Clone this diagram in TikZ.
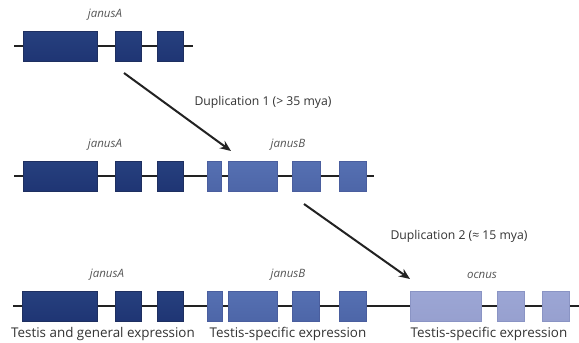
\documentclass[tikz,border=0pt]{standalone}
\usepackage{fontspec}
\setmainfont{Open Sans}
\usetikzlibrary{arrows.meta}

\definecolor{inkline}{HTML}{222222}
\definecolor{labelgray}{HTML}{555555}
\definecolor{textgray}{HTML}{333333}
% exon fills: dark (janusA), medium (janusB), light (ocnus)
\definecolor{aDraw}{HTML}{1E2F60}
\definecolor{aTop}{HTML}{26407E}
\definecolor{aMid}{HTML}{4A69B2}
\definecolor{aBot}{HTML}{1F3574}
\definecolor{bDraw}{HTML}{4A5E9E}
\definecolor{bTop}{HTML}{5670B2}
\definecolor{bMid}{HTML}{8EA2D8}
\definecolor{bBot}{HTML}{4D66A8}
\definecolor{cDraw}{HTML}{8A94C4}
\definecolor{cTop}{HTML}{9CA6D5}
\definecolor{cMid}{HTML}{CDD3F0}
\definecolor{cBot}{HTML}{97A0CF}

\tikzset{
  exon/.style={rectangle, inner sep=0pt, minimum height=30pt, anchor=west, line width=0.6pt},
  exonA/.style={exon, draw=aDraw, top color=aTop, middle color=aMid, bottom color=aBot},
  exonB/.style={exon, draw=bDraw, top color=bTop, middle color=bMid, bottom color=bBot},
  exonC/.style={exon, draw=cDraw, top color=cTop, middle color=cMid, bottom color=cBot},
  intron/.style={draw=inkline, line width=2pt},
  dup/.style={draw=inkline, line width=2pt, -{Stealth[length=11pt,width=9pt]}},
  gene/.style={text=labelgray, font=\itshape\fontsize{11.5}{12}\selectfont, inner sep=0pt},
  duplabel/.style={text=textgray, font=\fontsize{12.2}{13}\selectfont, inner sep=0pt},
  expr/.style={text=textgray, font=\fontsize{13.4}{14}\selectfont, inner sep=0pt}
}

\begin{document}
\begin{tikzpicture}[x=1pt,y=-1pt]
\useasboundingbox[fill=white] (0,0) rectangle (579,343);

% ---------- row 1: ancestral janusA ----------
\coordinate (r1s) at (14,46);
\coordinate (r1e) at (193,46);
\draw[intron] (r1s) -- (r1e);
\node[exonA, minimum width=74pt] (a1e1) at (23,46) {};
\node[exonA, minimum width=26pt] (a1e2) at (115,46) {};
\node[exonA, minimum width=26pt] (a1e3) at (157,46) {};
\node[gene] (a1lab) at (105,15) {janusA};

% ---------- duplication 1 ----------
\coordinate (d1s) at (124,73);
\coordinate (d1e) at (231,151);
\draw[dup] (d1s) -- (d1e);
\node[duplabel] (d1lab) at (263,102) {Duplication 1 (> 35 mya)};

% ---------- row 2: janusA + janusB ----------
\coordinate (r2s) at (14,176);
\coordinate (r2e) at (374,176);
\draw[intron] (r2s) -- (r2e);
\node[exonA, minimum width=74pt] (a2e1) at (23,176) {};
\node[exonA, minimum width=26pt] (a2e2) at (115,176) {};
\node[exonA, minimum width=26pt] (a2e3) at (157,176) {};
\node[exonB, minimum width=14pt] (b2e1) at (207,176) {};
\node[exonB, minimum width=49pt] (b2e2) at (228,176) {};
\node[exonB, minimum width=28pt] (b2e3) at (292,176) {};
\node[exonB, minimum width=27pt] (b2e4) at (339,176) {};
\node[gene] (a2lab) at (105,145) {janusA};
\node[gene] (b2lab) at (288,145) {janusB};

% ---------- duplication 2 ----------
\coordinate (d2s) at (304,204);
\coordinate (d2e) at (410,279);
\draw[dup] (d2s) -- (d2e);
\node[duplabel] (d2lab) at (459,236) {Duplication 2 (≈ 15 mya)};

% ---------- row 3: janusA + janusB + ocnus ----------
\coordinate (r3s) at (13,306);
\coordinate (r3e) at (579,306);
\draw[intron] (r3s) -- (r3e);
\node[exonA, minimum width=75pt] (a3e1) at (22,306) {};
\node[exonA, minimum width=26pt] (a3e2) at (115,306) {};
\node[exonA, minimum width=26pt] (a3e3) at (157,306) {};
\node[exonB, minimum width=15pt] (b3e1) at (207,306) {};
\node[exonB, minimum width=49pt] (b3e2) at (228,306) {};
\node[exonB, minimum width=27pt] (b3e3) at (292,306) {};
\node[exonB, minimum width=27pt] (b3e4) at (339,306) {};
\node[exonC, minimum width=71pt] (c3e1) at (410,306) {};
\node[exonC, minimum width=27pt] (c3e2) at (497,306) {};
\node[exonC, minimum width=27pt] (c3e3) at (542,306) {};
\node[gene] (a3lab) at (107,275) {janusA};
\node[gene] (b3lab) at (288,275) {janusB};
\node[gene] (c3lab) at (482,275) {ocnus};

% ---------- expression notes ----------
\node[expr] (xa) at (103,334) {Testis and general expression};
\node[expr] (xb) at (288,334) {Testis-specific expression};
\node[expr] (xc) at (489,334) {Testis-specific expression};
\end{tikzpicture}
\end{document}
